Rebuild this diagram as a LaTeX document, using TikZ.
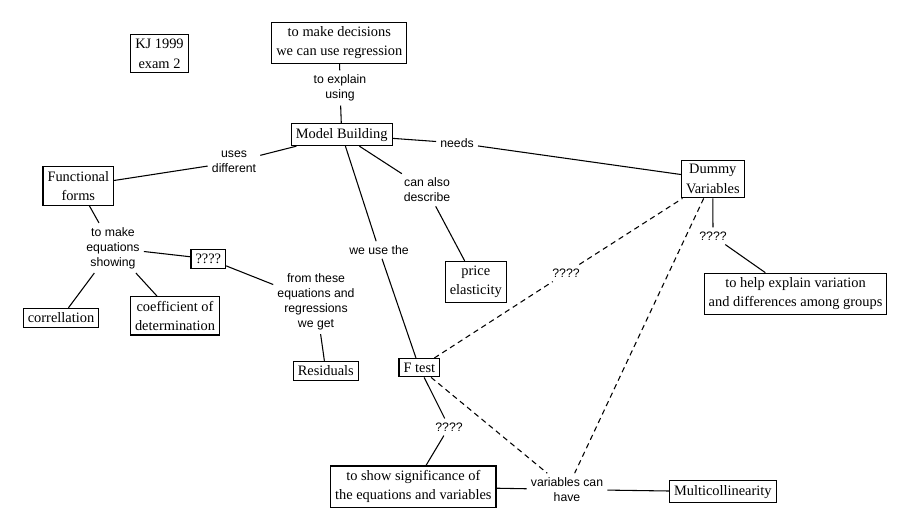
\documentclass[tikz,border=0pt]{standalone}
\usepackage{fontspec}
\setmainfont{Liberation Serif}
\newfontfamily\linkfont{Liberation Sans}
\begin{document}
\begin{tikzpicture}[x=0.75pt,y=-0.75pt,
  concept/.style={draw,line width=0.8pt,align=center,inner xsep=3.4pt,inner ysep=3.3pt,
    font=\fontsize{10.8}{14.5}\selectfont},
  link/.style={align=center,inner sep=3pt,font=\linkfont\fontsize{9.2}{11.3}\selectfont},
  conn/.style={line width=0.8pt},
  dashconn/.style={line width=0.8pt,dash pattern=on 4pt off 3pt}]
\useasboundingbox (0,0) rectangle (916,530);
\node[concept] (kj) at (159.5,53.7){KJ 1999\\exam 2};
\node[concept] (decide) at (339.3,42.7){to make decisions\\we can use regression};
\node[concept] (model) at (341.7,134.7){Model Building};
\node[concept] (func) at (78.3,186){Functional\\forms};
\node[concept] (qbox) at (208.3,258.8){????};
\node[concept] (correl) at (61,317.8){correllation};
\node[concept] (coef) at (175,315.8){coefficient of\\determination};
\node[concept] (resid) at (325.8,370.8){Residuals};
\node[concept] (ftest) at (419.3,367.7){F test};
\node[concept] (signif) at (413.3,486.7){to show significance of\\the equations and variables};
\node[concept] (price) at (475.8,281.8){price\\elasticity};
\node[concept] (dummy) at (712.8,179){Dummy\\Variables};
\node[concept] (groups) at (795.5,293.8){to help explain variation\\and differences among groups};
\node[concept] (multi) at (722.8,491.8){Multicollinearity};
\node[link] (explain) at (340,88){to explain\\using};
\node[link] (uses) at (234,162){uses\\different};
\node[link] (needs) at (457,143){needs};
\node[link] (describe) at (427,190){can also\\describe};
\node[link] (weuse) at (379,250){we use the};
\node[link] (showing) at (113,248){to make\\equations\\showing};
\node[link] (weget) at (316,301.5){from these\\equations and\\regressions\\we get};
\node[link] (qdash) at (566,273){????};
\node[link] (qdummy) at (713,236){????};
\node[link] (qftest) at (449,427){????};
\node[link] (canhave) at (567,489.5){variables can\\have};
\draw[conn] (decide) -- (explain);
\draw[conn] (explain) -- (model);
\draw[conn] (model) -- (uses);
\draw[conn] (uses) -- (func);
\draw[conn] (model) -- (needs);
\draw[conn] (needs) -- (dummy);
\draw[conn] (model) -- (describe);
\draw[conn] (describe) -- (price);
\draw[conn] (model) -- (weuse);
\draw[conn] (weuse) -- (ftest);
\draw[conn] (func) -- (showing);
\draw[conn] (showing) -- (qbox);
\draw[conn] (showing) -- (correl);
\draw[conn] (showing) -- (coef);
\draw[conn] (qbox) -- (weget);
\draw[conn] (weget) -- (resid);
\draw[conn] (ftest) -- (qftest);
\draw[conn] (qftest) -- (signif);
\draw[dashconn] (ftest) -- (qdash);
\draw[dashconn] (qdash) -- (dummy);
\draw[dashconn] (ftest) -- (canhave);
\draw[dashconn] (dummy) -- (canhave);
\draw[conn] (dummy) -- (qdummy);
\draw[conn] (qdummy) -- (groups);
\draw[conn] (signif) -- (canhave);
\draw[conn] (canhave) -- (multi);
\end{tikzpicture}
\end{document}
